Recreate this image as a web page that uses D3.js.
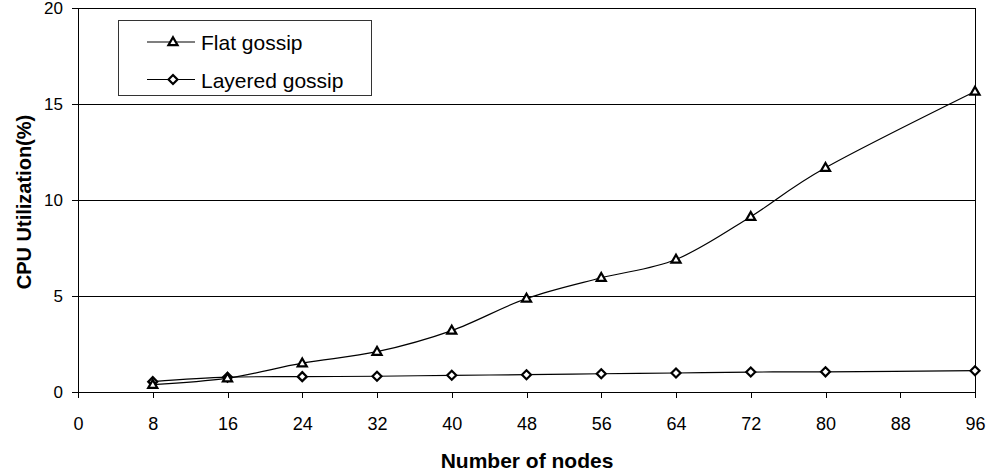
<!DOCTYPE html>
<html><head><meta charset="utf-8">
<script src="https://cdn.jsdelivr.net/npm/d3@7"></script>
<style>body{margin:0;background:#fff;} svg{display:block;font-family:"Liberation Sans",Arial,sans-serif;}</style>
</head><body>
<svg id="c" width="989" height="475"></svg>
<script>
const nodes = [8, 16, 24, 32, 40, 48, 56, 64, 72, 80, 96];
const flatGossip = [0.38, 0.72, 1.5, 2.1, 3.2, 4.87, 5.95, 6.9, 9.13, 11.68, 15.65];
const layeredGossip = [0.54, 0.77, 0.8, 0.82, 0.87, 0.9, 0.95, 0.99, 1.04, 1.05, 1.11];
const xTicks = [0, 8, 16, 24, 32, 40, 48, 56, 64, 72, 80, 88, 96];
const yTicks = [0, 5, 10, 15, 20];
const seriesNames = ["Flat gossip", "Layered gossip"];

const svg = d3.select("#c");
const L = 78, R = 975, T = 8, B = 392;
const x = d3.scaleLinear().domain([0, 96]).range([L, R]);
const y = d3.scaleLinear().domain([0, 20]).range([B, T]);

// gridlines
svg.append("g").selectAll("line").data(yTicks.filter(d => d > 0)).join("line")
  .attr("x1", L).attr("x2", R).attr("y1", d => y(d)).attr("y2", d => y(d))
  .attr("stroke", "#000").attr("stroke-width", 1).attr("shape-rendering", "crispEdges");
// right border
svg.append("line").attr("x1", R).attr("x2", R).attr("y1", T).attr("y2", B)
  .attr("stroke", "#000").attr("shape-rendering", "crispEdges");

const xAxis = svg.append("g").attr("transform", `translate(0,${B})`)
  .call(d3.axisBottom(x).tickValues(xTicks).tickSize(6).tickSizeOuter(0).tickPadding(19));
const yAxis = svg.append("g").attr("transform", `translate(${L},0)`)
  .call(d3.axisLeft(y).tickValues(yTicks).tickSize(6).tickSizeOuter(0).tickPadding(9));
[xAxis, yAxis].forEach((a, i) => {
  a.attr("font-size", null).attr("font-family", null);
  a.select(".domain").attr("stroke", "#000").attr("shape-rendering", "crispEdges");
  a.selectAll(".tick line").attr("stroke", "#000").attr("shape-rendering", "crispEdges");
  a.selectAll("text").style("font-size", i === 0 ? "18px" : "17px")
    .style("font-family", "Liberation Sans, Arial, sans-serif").attr("fill", "#000");
});

const line = d3.line().x(d => x(d[0])).y(d => y(d[1])).curve(d3.curveCatmullRom.alpha(0));
const flatData = nodes.map((n, i) => [n, flatGossip[i]]);
const layData = nodes.map((n, i) => [n, layeredGossip[i]]);

svg.append("path").attr("d", line(layData)).attr("fill", "none").attr("stroke", "#000").attr("stroke-width", 1.2);
svg.append("path").attr("d", line(flatData)).attr("fill", "none").attr("stroke", "#000").attr("stroke-width", 1.2);

const tri = d3.symbol().type(d3.symbolTriangle).size(36);
const dia = "M0,-4.5L4.5,0L0,4.5L-4.5,0Z";

function drawMarkers(data, sym, dy) {
  svg.append("g").selectAll("path").data(data).join("path")
    .attr("d", sym)
    .attr("transform", d => `translate(${x(d[0])},${y(d[1]) + dy})`)
    .attr("fill", "#fff").attr("stroke", "#000").attr("stroke-width", 2.2);
}
drawMarkers(layData, dia, 0);
drawMarkers(flatData, tri, 0.5);

// legend
const lg = svg.append("g");
lg.append("rect").attr("x", 118.5).attr("y", 20.5).attr("width", 253).attr("height", 75)
  .attr("fill", "#fff").attr("stroke", "#333").attr("stroke-width", 1);
[[tri, 42], [dia, 79.5]].forEach(([sym, yy], i) => {
  lg.append("line").attr("x1", 147).attr("x2", 195).attr("y1", yy).attr("y2", yy).attr("stroke", "#000").attr("stroke-width", 1.2);
  lg.append("path").attr("d", sym).attr("transform", `translate(173,${yy + (i === 0 ? 0.5 : 0)})`)
    .attr("fill", "#fff").attr("stroke", "#000").attr("stroke-width", 2.2);
  lg.append("text").attr("x", 201).attr("y", yy + 8).style("font-size", "21px").text(seriesNames[i]);
});

// axis titles
svg.append("text").attr("x", 527).attr("y", 468).attr("text-anchor", "middle")
  .attr("font-weight", "bold").style("font-size", "21px").text("Number of nodes");
svg.append("text").attr("transform", `translate(31,202) rotate(-90)`).attr("text-anchor", "middle")
  .attr("font-weight", "bold").style("font-size", "20px").text("CPU Utilization(%)");
</script>
</body></html>
